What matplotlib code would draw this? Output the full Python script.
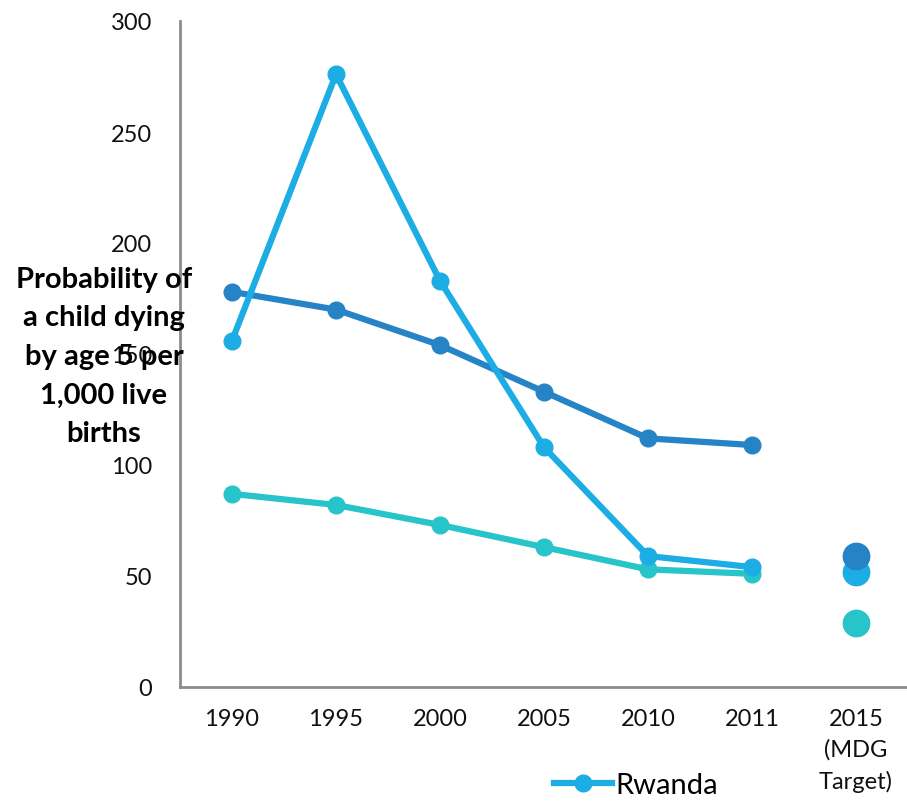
import matplotlib
matplotlib.use("Agg")
from matplotlib import pyplot as plt
from matplotlib.lines import Line2D

plt.rcParams['font.family'] = ['Lato', 'DejaVu Sans']

categories = ['1990', '1995', '2000', '2005', '2010', '2011', '2015\n(MDG\nTarget)']
rwanda = [156, 276, 183, 108, 59, 54]
region = [178, 170, 154, 133, 112, 109]
world = [87, 82, 73, 63, 53, 51]
targets = [52, 59, 29]   # rwanda, region, world at 2015

c_rwanda = '#1CADE4'
c_region = '#2683C6'
c_world = '#27C4C9'

fig = plt.figure(figsize=(9.07, 8.03), dpi=100)
ax = fig.add_axes([180/907, 1-688/803, 728/907, 666/803])

x = list(range(len(rwanda)))
ax.plot(x, world, color=c_world, lw=4.5, marker='o', ms=12)
ax.plot(x, region, color=c_region, lw=4.5, marker='o', ms=12)
ax.plot(x, rwanda, color=c_rwanda, lw=4.5, marker='o', ms=12)

t = len(categories) - 1
ax.plot([t], [targets[2]], 'o', color=c_world, ms=19)
ax.plot([t], [targets[0]], 'o', color=c_rwanda, ms=19)
ax.plot([t], [targets[1]], 'o', color=c_region, ms=19)

ax.set_xlim(-0.5, len(categories) - 0.5)
ax.set_ylim(0, 300)
ax.set_yticks(range(0, 301, 50))
ax.set_xticks(range(len(categories)))
ax.set_xticklabels(categories, fontsize=17, va='top', linespacing=1.55)
ax.tick_params(axis='y', labelsize=17, length=0, pad=20)
ax.tick_params(axis='x', length=0, pad=15)
for s in ['top', 'right']:
    ax.spines[s].set_visible(False)
for s in ['left', 'bottom']:
    ax.spines[s].set_color('#8c8c8c')
    ax.spines[s].set_linewidth(2)
for lbl in ax.get_yticklabels() + ax.get_xticklabels():
    lbl.set_color('#111111')

fig.text(104/907, 1-357/803, 'Probability of\na child dying\nby age 5 per\n1,000 live\nbirths',
         ha='center', va='center', fontsize=21, fontweight='bold', linespacing=1.6)

handle = Line2D([], [], color=c_rwanda, lw=4.5, marker='o', ms=12)
fig.legend([handle], ['Rwanda'], loc='center', bbox_to_anchor=(636/907, 1-786/803),
           frameon=False, fontsize=21, handlelength=2.0, handletextpad=0.1)

fig.savefig('out.png', dpi=100)
